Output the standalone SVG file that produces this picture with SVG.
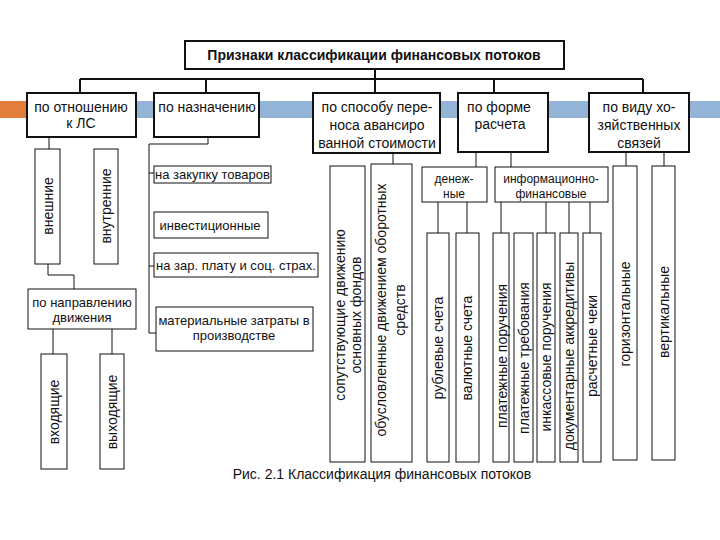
<svg xmlns="http://www.w3.org/2000/svg" width="720" height="540" viewBox="0 0 720 540">
<style>
.box{fill:#fff;stroke:#111;stroke-width:1}
.main{fill:#fff;stroke:#111;stroke-width:2}
.ln{fill:none;stroke:#111;stroke-width:1}
.lm{fill:none;stroke:#111;stroke-width:2}
text{font-family:"Liberation Sans",Arial,sans-serif;fill:#111;font-size:14px;text-anchor:middle}
.t{font-weight:bold}
.v{font-size:14px;dominant-baseline:central}
.s{font-size:13px}
.xs{font-size:12px}
</style>
<rect x="0" y="101" width="720" height="17" fill="#93b3d7"/>
<rect x="0" y="101" width="28" height="17" fill="#e27d3c"/>
<g id="connectors">
<path class="lm" d="M375,69V93M80,79H643M80,79V93M206,79V93M494,79V93M643,79V93"/>
<path class="ln" d="M49,137V149M48,264V275H74V289M53,329V354M112,329V354"/>
<path class="ln" d="M208,137V144H149V333H156M149,173H154M149,266H154"/>
<path class="ln" d="M393,153V164M476,152V167M511,152V167M438,202V233M467,202V233"/>
<path class="ln" d="M501,202V233M546,202V233M569,202V233M590,202V233M626,152V166M664,152V166"/>
</g>
<g id="title"><rect class="main" x="185" y="41" width="379" height="28"/><text class="t" x="374" y="60">Признаки классификации финансовых потоков</text></g>
<g id="n1"><rect class="main" x="27" y="93" width="109" height="44"/><text x="81" y="112">по отношению</text><text x="81" y="128">к ЛС</text></g>
<g id="n2"><rect class="main" x="154" y="93" width="105" height="44"/><text x="207" y="112">по назначению</text></g>
<g id="n3"><rect class="main" x="313" y="93" width="127" height="60"/><text x="377" y="112">по способу пере-</text><text x="377" y="130">носа авансиро</text><text x="377" y="148">ванной стоимости</text></g>
<g id="n4"><rect class="main" x="458" y="93" width="90" height="59"/><text x="499" y="112">по форме</text><text x="500" y="129">расчета</text></g>
<g id="n5"><rect class="main" x="589" y="93" width="100" height="59"/><text x="639" y="112">по виду хо-</text><text x="639" y="130">зяйственных</text><text x="639" y="148">связей</text></g>
<g id="n1a"><rect class="box" x="35" y="149" width="25" height="115"/><text class="v" transform="translate(47.5,206) rotate(-90)">внешние</text></g>
<g id="n1b"><rect class="box" x="94" y="149" width="24" height="115"/><text class="v" transform="translate(106,206) rotate(-90)">внутренние</text></g>
<g id="n1c"><rect class="box" x="28" y="289" width="108" height="40"/><text class="s" x="82" y="307">по направлению</text><text class="s" x="82" y="322">движения</text></g>
<g id="n1d"><rect class="box" x="41" y="354" width="26" height="115"/><text class="v" transform="translate(54,412) rotate(-90)">входящие</text></g>
<g id="n1e"><rect class="box" x="100" y="354" width="24" height="115"/><text class="v" transform="translate(112,412) rotate(-90)">выходящие</text></g>
<g id="n2a"><rect class="box" x="154" y="166" width="117" height="17"/><text class="s" x="212.5" y="179">на закупку товаров</text></g>
<g id="n2b"><rect class="box" x="154" y="212" width="114" height="26"/><text class="s" x="210" y="230">инвестиционные</text></g>
<g id="n2c"><rect class="box" x="154" y="253" width="164" height="24"/><text class="s" x="236" y="270">на зар. плату и соц. страх.</text></g>
<g id="n2d"><rect class="box" x="156" y="307" width="157" height="44"/><text class="s" x="234" y="325">материальные затраты в</text><text class="s" x="234" y="340">производстве</text></g>
<g id="n3a"><rect class="box" x="330" y="166" width="35" height="296"/><text class="v" transform="translate(340,315) rotate(-90)">сопутствующие движению</text><text class="v" transform="translate(356,315) rotate(-90)">основных фондов</text></g>
<g id="n3b"><rect class="box" x="371" y="164" width="41" height="298"/><text class="v" transform="translate(381,310) rotate(-90)">обусловленные движением оборотных</text><text class="v" transform="translate(400,310) rotate(-90)">средств</text></g>
<g id="n4a"><rect class="box" x="422" y="167" width="65" height="35"/><text class="xs" x="454" y="183">денеж-</text><text class="xs" x="454" y="198">ные</text></g>
<g id="n4b"><rect class="box" x="495" y="167" width="113" height="35"/><text class="xs" x="551" y="183">информационно-</text><text class="xs" x="551" y="198">финансовые</text></g>
<g id="n4a1"><rect class="box" x="427" y="233" width="22" height="229"/><text class="v" transform="translate(438,348) rotate(-90)">рублевые счета</text></g>
<g id="n4a2"><rect class="box" x="456" y="233" width="23" height="229"/><text class="v" transform="translate(467,348) rotate(-90)">валютные счета</text></g>
<g id="n4b1"><rect class="box" x="493" y="233" width="16" height="229"/><text class="v" transform="translate(501.5,356) rotate(-90)">платежные поручения</text></g>
<g id="n4b2"><rect class="box" x="514" y="233" width="19" height="229"/><text class="v" transform="translate(524,358) rotate(-90)">платежные требования</text></g>
<g id="n4b3"><rect class="box" x="537" y="233" width="18" height="229"/><text class="v" transform="translate(546,357) rotate(-90)">инкассовые поручения</text></g>
<g id="n4b4"><rect class="box" x="560" y="233" width="18" height="229"/><text class="v" transform="translate(569,356) rotate(-90)">документарные аккредитивы</text></g>
<g id="n4b5"><rect class="box" x="583" y="233" width="18" height="229"/><text class="v" transform="translate(592,346) rotate(-90)">расчетные чеки</text></g>
<g id="n5a"><rect class="box" x="613" y="166" width="24" height="294"/><text class="v" transform="translate(625,314) rotate(-90)">горизонтальные</text></g>
<g id="n5b"><rect class="box" x="652" y="166" width="23" height="294"/><text class="v" transform="translate(663.5,312) rotate(-90)">вертикальные</text></g>
<text x="382" y="479">Рис. 2.1 Классификация финансовых потоков</text>
</svg>
